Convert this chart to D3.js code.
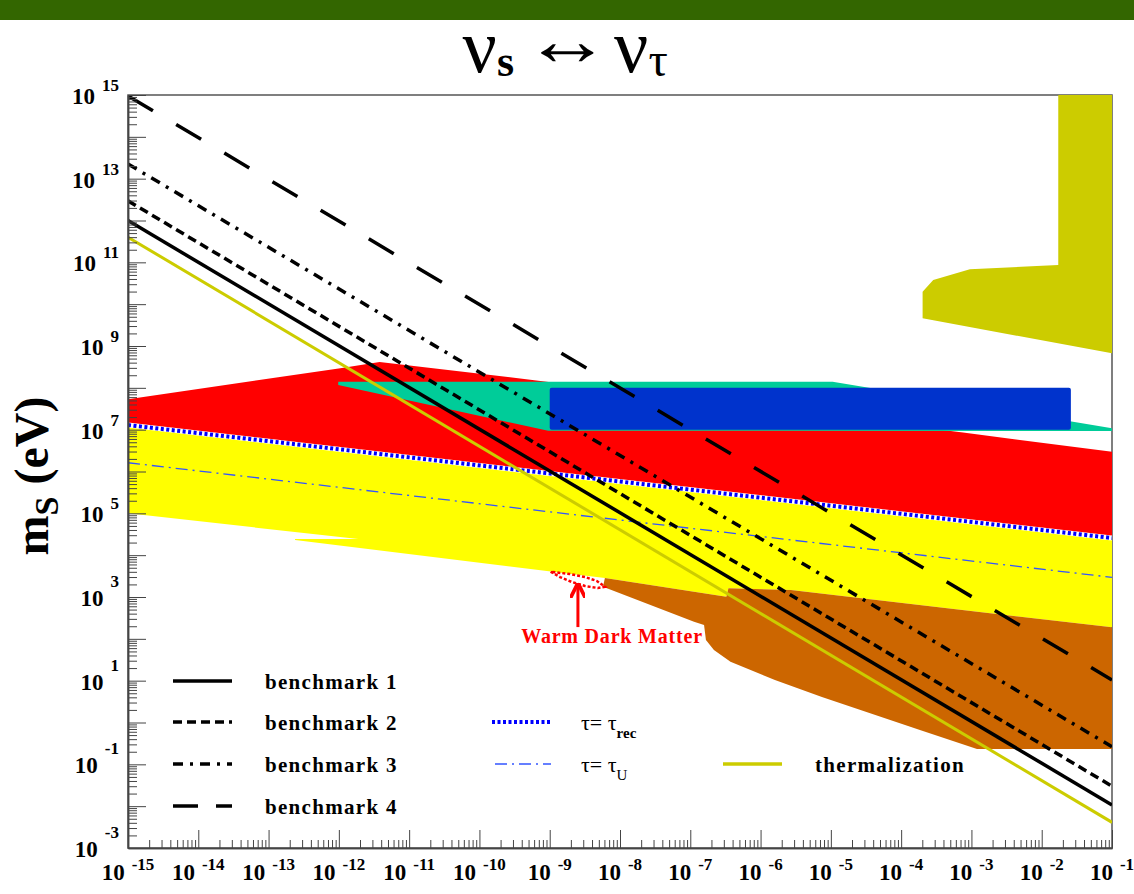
<!DOCTYPE html>
<html>
<head>
<meta charset="utf-8">
<script src="https://cdnjs.cloudflare.com/ajax/libs/d3/7.8.5/d3.min.js"></script>
<style>
  html, body { margin: 0; padding: 0; background: #ffffff; }
  svg { display: block; }
  text { font-family: "Liberation Serif", "Times New Roman", serif; }
</style>
</head>
<body>
<svg id="chart" width="1134" height="894"></svg>
<script>
// ---------------- axis ranges and tick labels ----------------
const xDomain = [1e-15, 1e-1];
const yDomain = [1e-3, 1e15];
const xLabelExponents = [-15, -14, -13, -12, -11, -10, -9, -8, -7, -6, -5, -4, -3, -2, -1];
const yLabelExponents = [15, 13, 11, 9, 7, 5, 3, 1, -1, -3];

// ---------------- lines: [mixing, m_s (eV)] ----------------
const benchmark1 = [[1e-15, 1.0e12], [1e-1, 1.07e-2]];
const benchmark2 = [[1e-15, 2.95e12], [1e-1, 3.0e-2]];
const benchmark3 = [[1e-15, 2.24e13], [1e-1, 0.263]];
const benchmark4 = [[1e-15, 9.5e14], [1e-1, 10.4]];
const thermalization = [[1e-15, 3.98e11], [1e-1, 4.1e-3]];
const tauRec = [[1e-15, 1.29e7], [1e-1, 2.57e4]];
const tauU = [[1e-15, 1.62e6], [1e-1, 2.95e3]];

// ---------------- shaded regions ----------------
// red band: upper edge, closed by the tau = tau_rec line below
const redUpper = [[1e-15, 5.37e7], [1.05e-12, 2.95e8], [3.8e-12, 4.17e8], [6.9e-10, 1.48e8],
                  [7.6e-4, 8.5e6], [1e-1, 2.95e6]];
const tealRegion = [[9.8e-13, 1.4e8], [1.06e-5, 1.4e8], [1e-1, 1.08e7], [1e-1, 9.3e6],
                    [9.5e-10, 9.4e6], [9.8e-13, 1.17e8]];
const blueBox = { x: [1e-9, 2.6e-2], y: [1e7, 1e8] };
// yellow band: top is tau = tau_rec, lower edge listed right to left
const yellowLower = [[1e-1, 188], [2.7e-6, 1470], [3.49e-7, 1610], [3.26e-7, 1014],
                     [6.1e-9, 2838], [1.11e-9, 4018], [2.38e-13, 2.3e4], [2.38e-13, 2.43e4],
                     [1.89e-12, 2.43e4], [1e-15, 1e5]];
const brownRegion = [[6.1e-9, 2838], [3.26e-7, 1014], [3.49e-7, 1610], [2.7e-6, 1470],
                     [1e-1, 188], [1e-1, 0.232], [1.2e-3, 0.232], [1.85e-4, 0.66],
                     [7.46e-6, 4.06], [1.6e-6, 10.4], [3.73e-7, 28.3], [2.17e-7, 54],
                     [1.67e-7, 93.5], [1.57e-7, 214], [1.13e-7, 256], [5.73e-9, 1758]];
const oliveRegion = [[1.72e-2, 1e15], [1e-1, 1e15], [1e-1, 6.7e8], [2.02e-4, 4.6e9],
                     [2.02e-4, 1.99e10], [2.86e-4, 3.78e10], [9.5e-4, 6.8e10],
                     [8.5e-3, 8.2e10], [1.72e-2, 8.6e10]];
const warmDarkMatter = [[1.03e-9, 4018], [1.4e-9, 3000], [2.07e-9, 2280], [3.18e-9, 1830],
                        [4.86e-9, 1640], [6.1e-9, 1760], [4.7e-9, 2410], [3.18e-9, 3000],
                        [1.94e-9, 3540], [1.03e-9, 4018]];
const wdmArrow = [[2.52e-9, 191], [2.52e-9, 1830]];
const wdmLabel = { x: 7.7e-9, y: 79, text: "Warm Dark Matter" };

// legend entries
const legendBench = ["benchmark 1", "benchmark 2", "benchmark 3", "benchmark 4"];

// ---------------- layout ----------------
const margin = { left: 128, top: 95, right: 1112, bottom: 848 };
const svg = d3.select("#chart");

const x = d3.scaleLog().domain(xDomain).range([margin.left, margin.right]);
const y = d3.scaleLog().domain(yDomain).range([margin.bottom, margin.top]);
const line = d3.line().x(d => x(d[0])).y(d => y(d[1]));
const poly = pts => line(pts) + "Z";

const colors = {
  bar: "#336600", red: "#ff0000", teal: "#00cc99", blue: "#0033cc",
  yellow: "#ffff00", brown: "#cc6600", olive: "#cccc00", rec: "#0000ff", univ: "#3355ff"
};

// header bar
svg.append("rect").attr("x", 0).attr("y", 0).attr("width", 1134).attr("height", 20)
  .attr("fill", colors.bar);

// title: nu_s <-> nu_tau
const titleLeft = svg.append("text").attr("x", 514).attr("y", 72).attr("text-anchor", "end")
  .attr("font-size", 76);
titleLeft.append("tspan").text("ν");
titleLeft.append("tspan").attr("font-size", 44).attr("font-weight", "bold").attr("dy", 4).text("s");
svg.append("text").attr("transform", "translate(567,65) scale(1.4,1.15)")
  .attr("text-anchor", "middle").attr("font-size", 63).text("↔");
const titleRight = svg.append("text").attr("x", 614).attr("y", 72).attr("text-anchor", "start")
  .attr("font-size", 76);
titleRight.append("tspan").text("ν");
titleRight.append("tspan").attr("font-size", 48).attr("dy", 4).text("τ");

// y-axis title
const yTitle = svg.append("text").attr("transform", "translate(48,476) rotate(-90)")
  .attr("text-anchor", "middle").attr("font-weight", "bold").attr("font-size", 48);
yTitle.append("tspan").text("m");
yTitle.append("tspan").attr("font-size", 34).attr("dy", 10).text("S");
yTitle.append("tspan").attr("dy", -10).text(" (eV)");

// plot area
const clipId = "plotClip";
svg.append("clipPath").attr("id", clipId).append("rect")
  .attr("x", margin.left).attr("y", margin.top)
  .attr("width", margin.right - margin.left).attr("height", margin.bottom - margin.top);

// frame (top and right edges sit under the fills)
svg.append("rect").attr("x", margin.left).attr("y", margin.top)
  .attr("width", margin.right - margin.left).attr("height", margin.bottom - margin.top)
  .attr("fill", "none").attr("stroke", "#555").attr("stroke-width", 1.5);

const plot = svg.append("g").attr("clip-path", `url(#${clipId})`);

plot.append("path").attr("d", poly(redUpper.concat(tauRec.slice().reverse()))).attr("fill", colors.red);
plot.append("path").attr("d", poly(tealRegion)).attr("fill", colors.teal);
plot.append("rect")
  .attr("x", x(blueBox.x[0])).attr("y", y(blueBox.y[1]))
  .attr("width", x(blueBox.x[1]) - x(blueBox.x[0])).attr("height", y(blueBox.y[0]) - y(blueBox.y[1]))
  .attr("rx", 2).attr("fill", colors.blue);
plot.append("path").attr("d", poly(tauRec.concat(yellowLower))).attr("fill", colors.yellow);
plot.append("path").attr("d", poly(brownRegion)).attr("fill", colors.brown);
plot.append("path").attr("d", poly(oliveRegion)).attr("fill", colors.olive);

// tau = tau_rec : blue dots on a white stripe
plot.append("path").attr("d", line(tauRec)).attr("fill", "none")
  .attr("stroke", "#fff").attr("stroke-width", 5);
plot.append("path").attr("d", line(tauRec)).attr("fill", "none")
  .attr("stroke", colors.rec).attr("stroke-width", 4).attr("stroke-dasharray", "3,2.5");
// tau = tau_U
plot.append("path").attr("d", line(tauU)).attr("fill", "none")
  .attr("stroke", colors.univ).attr("stroke-width", 1.3).attr("stroke-dasharray", "12,5,2,5");

// thermalization and benchmark lines
const lineStyles = [
  { data: thermalization, color: colors.olive, width: 3, dash: null },
  { data: benchmark1, color: "#000", width: 3.5, dash: null },
  { data: benchmark2, color: "#000", width: 3.5, dash: "9,5" },
  { data: benchmark3, color: "#000", width: 3.5, dash: "10,7,3,7" },
  { data: benchmark4, color: "#000", width: 3.5, dash: "29,27" }
];
lineStyles.forEach(s => {
  plot.append("path").attr("d", line(s.data)).attr("fill", "none")
    .attr("stroke", s.color).attr("stroke-width", s.width)
    .attr("stroke-dasharray", s.dash);
});

// warm dark matter patch
plot.append("path").attr("d", line(warmDarkMatter)).attr("fill", "none")
  .attr("stroke", colors.red).attr("stroke-width", 2.5).attr("stroke-dasharray", "3,2");
svg.append("defs").append("marker").attr("id", "arrowHead")
  .attr("viewBox", "0 0 10 10").attr("refX", 8).attr("refY", 5)
  .attr("markerWidth", 5).attr("markerHeight", 5).attr("orient", "auto")
  .append("path").attr("d", "M0,0L10,5L0,10").attr("fill", "none")
  .attr("stroke", colors.red).attr("stroke-width", 2.5);
svg.append("path").attr("d", line(wdmArrow)).attr("stroke", colors.red)
  .attr("stroke-width", 3).attr("fill", "none").attr("marker-end", "url(#arrowHead)");
svg.append("text").attr("x", x(wdmLabel.x)).attr("y", y(wdmLabel.y))
  .attr("text-anchor", "middle").attr("font-weight", "bold").attr("font-size", 20)
  .attr("letter-spacing", 0.8).attr("fill", colors.red).text(wdmLabel.text);

// ---------------- axes ----------------
function logTicks(lo, hi) {
  const major = [], minor = [];
  for (let e = lo; e <= hi; e++) {
    major.push(Math.pow(10, e));
    if (e < hi) for (let k = 2; k <= 9; k++) minor.push(k * Math.pow(10, e));
  }
  return { major, minor };
}
const xt = logTicks(-15, -1);
const yt = logTicks(-3, 15);

const axisStyle = g => {
  g.select(".domain").attr("stroke", "#444").attr("stroke-width", 1.5);
  g.selectAll(".tick line").attr("stroke", "#444").attr("stroke-width", 1);
  g.selectAll(".tick text").remove();
};
[[xt.major, 18], [xt.minor, 8]].forEach(([vals, len]) => {
  svg.append("g").attr("transform", `translate(0,${margin.bottom})`)
    .call(d3.axisBottom(x).tickValues(vals).tickSizeInner(-len).tickSizeOuter(0).tickFormat(""))
    .call(axisStyle);
});
[[yt.major, 18], [yt.minor, 9]].forEach(([vals, len]) => {
  svg.append("g").attr("transform", `translate(${margin.left},0)`)
    .call(d3.axisLeft(y).tickValues(vals).tickSizeInner(-len).tickSizeOuter(0).tickFormat(""))
    .call(axisStyle);
});

// power-of-ten labels
const sup = e => (e < 0 ? "-" : "") + Math.abs(e);
xLabelExponents.forEach(e => {
  const t = svg.append("text").attr("x", x(Math.pow(10, e))).attr("y", 880)
    .attr("text-anchor", "middle").attr("font-weight", "bold").attr("font-size", 23);
  t.append("tspan").text("10");
  t.append("tspan").attr("font-size", 17).attr("dx", 7).attr("dy", -10).text(sup(e));
});
yLabelExponents.forEach(e => {
  const t = svg.append("text").attr("x", 119).attr("y", y(Math.pow(10, e)) + 9)
    .attr("text-anchor", "end").attr("font-weight", "bold").attr("font-size", 23);
  t.append("tspan").text("10");
  t.append("tspan").attr("font-size", 17).attr("dx", 7).attr("dy", e >= 5 ? -13 : -19).text(sup(e));
});

// ---------------- legend ----------------
const legend = svg.append("g");
const benchDash = [null, "9,5", "10,7,3,7", "25,18"];
const legendRows = [681, 722, 764, 806];
legendBench.forEach((name, i) => {
  legend.append("line").attr("x1", 173).attr("x2", 232).attr("y1", legendRows[i]).attr("y2", legendRows[i])
    .attr("stroke", "#000").attr("stroke-width", 3.5).attr("stroke-dasharray", benchDash[i]);
  legend.append("text").attr("x", 265).attr("y", legendRows[i] + 8)
    .attr("font-weight", "bold").attr("font-size", 21).attr("letter-spacing", 1.3).text(name);
});
legend.append("line").attr("x1", 492).attr("x2", 551).attr("y1", 722).attr("y2", 722)
  .attr("stroke", colors.rec).attr("stroke-width", 4).attr("stroke-dasharray", "3,2.5");
legend.append("line").attr("x1", 495).attr("x2", 551).attr("y1", 764).attr("y2", 764)
  .attr("stroke", colors.univ).attr("stroke-width", 1.3).attr("stroke-dasharray", "12,5,2,5");
const recText = legend.append("text").attr("x", 581).attr("y", 730).attr("font-size", 22);
recText.append("tspan").text("τ= τ");
recText.append("tspan").attr("font-size", 15).attr("font-weight", "bold").attr("dy", 8).text("rec");
const uText = legend.append("text").attr("x", 581).attr("y", 772).attr("font-size", 22);
uText.append("tspan").text("τ= τ");
uText.append("tspan").attr("font-size", 15).attr("dy", 8).text("U");
legend.append("line").attr("x1", 723).attr("x2", 782).attr("y1", 764).attr("y2", 764)
  .attr("stroke", colors.olive).attr("stroke-width", 3.5);
legend.append("text").attr("x", 815).attr("y", 772).attr("font-weight", "bold")
  .attr("font-size", 21).attr("letter-spacing", 1.3).text("thermalization");
</script>
</body>
</html>
